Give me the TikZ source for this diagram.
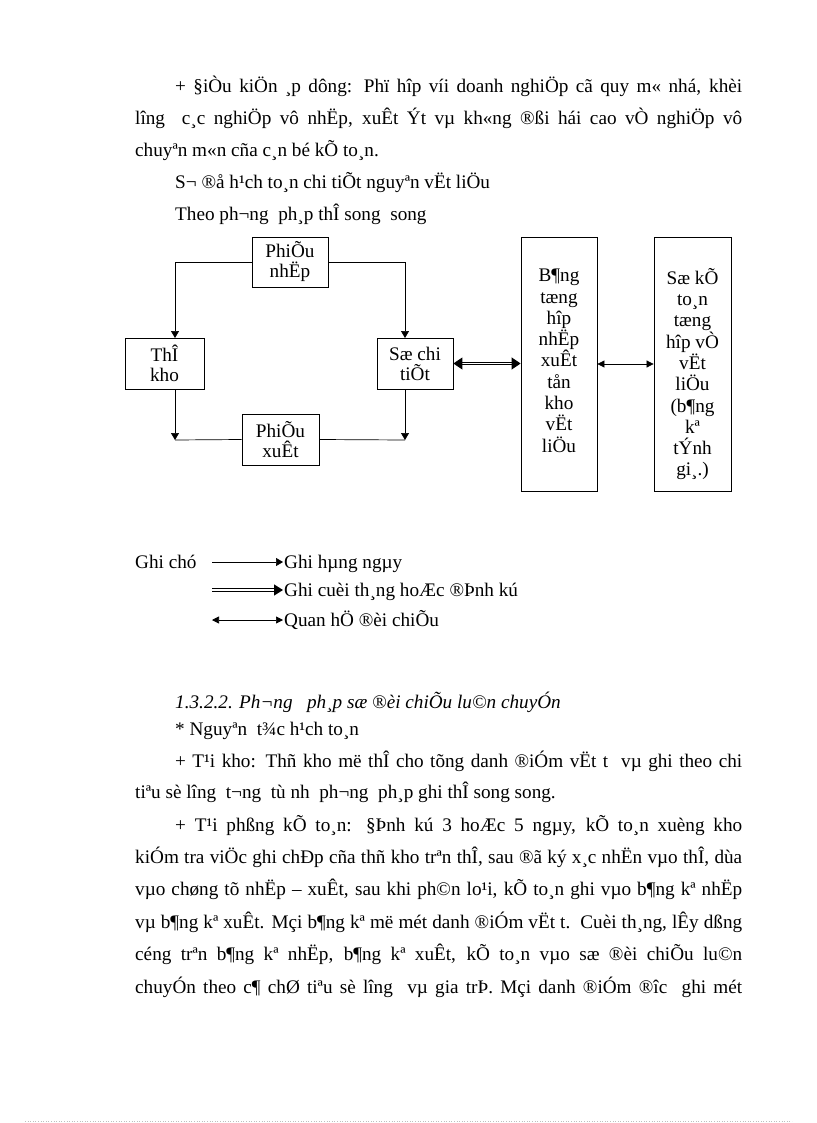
\documentclass[tikz,border=0pt]{standalone}
\usepackage{fontspec}
\setmainfont{Liberation Serif}
\usetikzlibrary{arrows.meta}
\begin{document}
\begin{tikzpicture}[x=1pt,y=-1pt,font=\fontsize{19.2}{21}\selectfont,
  body/.style={anchor=base west,inner sep=0pt},
  sbox/.style={draw,line width=0.8pt,inner sep=0pt,align=center,font=\fontsize{19.2}{20}\selectfont},
  tbox/.style={draw,line width=0.8pt,inner sep=0pt},
  ttext/.style={anchor=north,inner sep=0pt,align=center,font=\fontsize{19.2}{21.3}\selectfont},
  arr/.style={line width=0.7pt,-{Triangle[width=8pt,length=7pt]}},
  barr/.style={line width=0.7pt,{Triangle[width=7pt,length=7pt]}-{Triangle[width=7pt,length=7pt]}},
  dbl/.style={double,double distance=1.8pt,line width=0.9pt},
  leg/.style={anchor=west,inner sep=1pt,text height=13pt,text depth=1pt}]
\useasboundingbox (0,0) rectangle (816,1123);
% top paragraph
\node[body] (t1) at (175,93) {\makebox[567pt][s]{+ §iÒu kiÖn ¸p dông: Phï hîp víi doanh nghiÖp cã quy m« nhá, khèi}};
\node[body] (t2) at (135,125) {\makebox[607pt][s]{lîng\ \ c¸c nghiÖp vô nhËp, xuÊt Ýt vµ kh«ng ®ßi hái cao vÒ nghiÖp vô}};
\node[body] (t3) at (135,157) {chuyªn m«n cña c¸n bé kÕ to¸n.};
\node[body] (t4) at (175,189) {S¬ ®å h¹ch to¸n chi tiÕt nguyªn vËt liÖu};
\node[body] (t5) at (175,221) {Theo ph¬ng\ \ ph¸p thÎ song\ \ song};
% diagram
\node[sbox,minimum width=76pt,minimum height=50pt] (pn) at (290,262) {PhiÕu\\nhËp};
\node[sbox,minimum width=79pt,minimum height=51pt] (tk) at (164.5,363.5) {ThÎ\\kho};
\node[sbox,minimum width=76pt,minimum height=51pt] (sc) at (415,363.5) {Sæ chi\\tiÕt};
\node[sbox,minimum width=77pt,minimum height=51pt] (px) at (280.5,439.5) {PhiÕu\\xuÊt};
\node[tbox,minimum width=76pt,minimum height=254pt] (bt) at (559,364) {};
\node[ttext] (btt) at (559,269) {B¶ng\\tæng\\hîp\\nhËp\\xuÊt\\tån\\kho\\vËt\\liÖu};
\node[tbox,minimum width=77pt,minimum height=254pt] (sk) at (692.5,364) {};
\node[ttext] (skt) at (692.5,268) {Sæ kÕ\\to¸n\\tæng\\hîp vÒ\\vËt\\liÖu\\(b¶ng\\kª\\tÝnh\\gi¸.)};
\coordinate (c1) at (175,338);
\coordinate (c2) at (405,338);
\coordinate (c3) at (175,440);
\coordinate (c4) at (405,440);
\draw[arr] (pn.west) -| (c1);
\draw[arr] (pn.east) -| (c2);
\draw[arr] (tk.south -| c3) -- (c3);
\draw[line width=0.7pt] (px.west) -- (c3);
\draw[arr] (sc.south -| c4) -- (c4);
\draw[line width=0.7pt] (px.east) -- (c4);
\draw[dbl,{Triangle[width=12pt,length=9pt]}-{Triangle[width=12pt,length=9pt]}] (sc.east) -- (bt.west |- sc.east);
\draw[barr] (bt.east) -- (sk.west);
% legend
\node[body] (gc) at (135,568) {Ghi chó};
\node[leg] (l1) at (283,562) {Ghi hµng ngµy};
\node[leg] (l2) at (283,590) {Ghi cuèi th¸ng hoÆc ®Þnh kú};
\node[leg] (l3) at (283,620) {Quan hÖ ®èi chiÕu};
\coordinate (a1) at (212,562);
\coordinate (a2) at (212,590);
\coordinate (a3) at (212,620);
\draw[arr] (a1) -- (l1.west);
\draw[double,double distance=1.4pt,line width=1.4pt,-{Triangle[width=11pt,length=9pt]}] (a2) -- (l2.west);
\draw[barr] (a3) -- (l3.west);
% bottom text
\node[body,font=\fontsize{19.2}{21}\selectfont\itshape] (h1) at (175,708) {1.3.2.2. Ph¬ng\ \ \ ph¸p sæ ®èi chiÕu lu©n chuyÓn};
\node[body] (b0) at (175,735) {* Nguyªn\ \ t¾c h¹ch to¸n};
\node[body] (b1) at (175,767) {\makebox[567pt][s]{+ T¹i kho: Thñ kho më thÎ cho tõng danh ®iÓm vËt t\ \ vµ ghi theo chi}};
\node[body] (b2) at (135,798) {tiªu sè lîng\ \ t¬ng\ \ tù nh\ \ ph¬ng\ \ ph¸p ghi thÎ song song.};
\node[body] (b3) at (175,831) {\makebox[567pt][s]{+ T¹i phßng kÕ to¸n: §Þnh kú 3 hoÆc 5 ngµy, kÕ to¸n xuèng kho}};
\node[body] (b4) at (135,863) {\makebox[607pt][s]{kiÓm tra viÖc ghi chÐp cña thñ kho trªn thÎ, sau ®ã ký x¸c nhËn vµo thÎ, dùa}};
\node[body] (b5) at (135,895) {\makebox[607pt][s]{vµo chøng tõ nhËp – xuÊt, sau khi ph©n lo¹i, kÕ to¸n ghi vµo b¶ng kª nhËp}};
\node[body] (b6) at (135,928) {\makebox[607pt][s]{vµ b¶ng kª xuÊt. Mçi b¶ng kª më mét danh ®iÓm vËt t.\ \ Cuèi th¸ng, lÊy dßng}};
\node[body] (b7) at (135,960) {\makebox[607pt][s]{céng trªn b¶ng kª nhËp, b¶ng kª xuÊt, kÕ to¸n vµo sæ ®èi chiÕu lu©n}};
\node[body] (b8) at (135,993) {\makebox[607pt][s]{chuyÓn theo c¶ chØ tiªu sè lîng\ \ vµ gia trÞ. Mçi danh ®iÓm ®îc\ \ ghi mét}};
% faint page edge
\draw[black!25,line width=0.6pt,dotted] (25,1121) -- (792,1121);
\end{tikzpicture}
\end{document}
